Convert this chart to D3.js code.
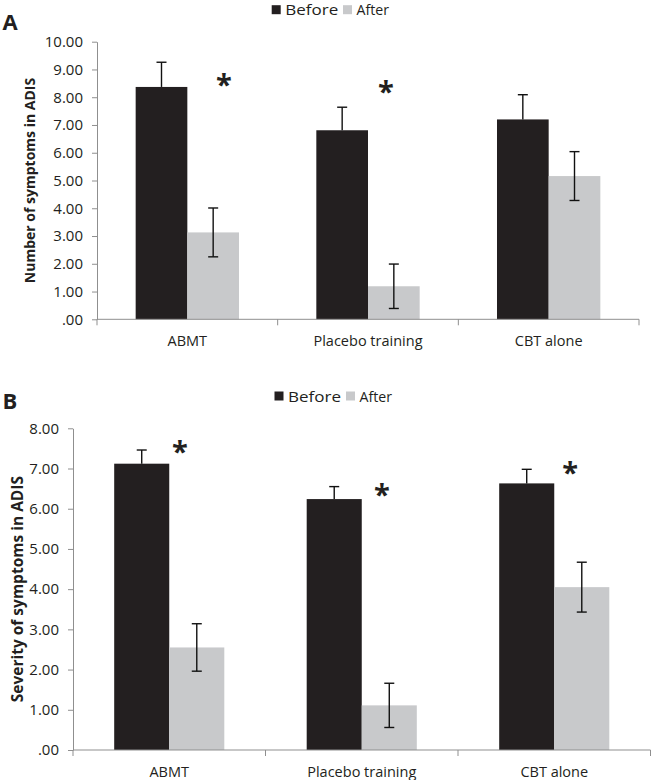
<!DOCTYPE html>
<html>
<head>
<meta charset="utf-8">
<script src="https://cdn.jsdelivr.net/npm/d3@7/dist/d3.min.js"></script>
<style>
  html, body { margin: 0; padding: 0; background: #fff; }
  svg { display: block; }
  text { font-family: "Open Sans", "Noto Sans", sans-serif; fill: #231f20; }
</style>
</head>
<body>
<svg id="chart" width="651" height="780"></svg>
<script>
// ---------------- data ----------------
const categories = ["ABMT", "Placebo training", "CBT alone"];
const seriesNames = ["Before", "After"];

// Panel A: Number of symptoms in ADIS
const aBefore    = [8.37, 6.81, 7.20];
const aBeforeErr = [0.89, 0.83, 0.89];
const aAfter     = [3.13, 1.19, 5.16];
const aAfterErr  = [0.88, 0.80, 0.88];
const aTicks     = [0, 1, 2, 3, 4, 5, 6, 7, 8, 9, 10];
// significance marks: category index, y value, x offset from band centre (fraction of band)
const aStars     = [[0, 8.65, 0.203], [1, 8.40, 0.099]];

// Panel B: Severity of symptoms in ADIS
const bBefore    = [7.12, 6.24, 6.63];
const bBeforeErr = [0.34, 0.31, 0.35];
const bAfter     = [2.55, 1.11, 4.05];
const bAfterErr  = [0.59, 0.55, 0.62];
const bTicks     = [0, 1, 2, 3, 4, 5, 6, 7, 8];
const bStars     = [[0, 7.56, 0.056], [1, 6.49, 0.105], [2, 7.04, 0.082]];

const colors = { Before: "#231f20", After: "#c8c9cb" };
const axisColor = "#8f8f8f";

const svg = d3.select("#chart");

function drawPanel(cfg) {
  const g = svg.append("g");
  const y = d3.scaleLinear().domain([0, d3.max(cfg.ticks)]).range([cfg.y0, cfg.y1]);
  const x = d3.scaleBand().domain(categories).range([cfg.x0, cfg.x1]).padding(0);
  const groupFrac = 0.572;
  const x1 = d3.scaleBand().domain(seriesNames)
    .range([x.bandwidth() * (1 - groupFrac) / 2, x.bandwidth() * (1 + groupFrac) / 2]).padding(0);

  const rows = categories.map((c, i) => ({
    cat: c,
    vals: [
      { s: "Before", v: cfg.before[i], e: cfg.beforeErr[i] },
      { s: "After",  v: cfg.after[i],  e: cfg.afterErr[i] }
    ]
  }));

  // bars
  const grp = g.selectAll("g.cat").data(rows).join("g")
    .attr("transform", d => `translate(${x(d.cat)},0)`);
  grp.selectAll("rect").data(d => d.vals).join("rect")
    .attr("x", d => x1(d.s))
    .attr("width", x1.bandwidth())
    .attr("y", d => y(d.v))
    .attr("height", d => y(0) - y(d.v))
    .attr("fill", d => colors[d.s]);

  // error bars (lower half of the Before bars is hidden inside the dark bar)
  const eb = grp.selectAll("g.err").data(d => d.vals).join("g")
    .attr("transform", d => `translate(${x1(d.s) + x1.bandwidth() / 2},0)`);
  eb.append("line").attr("x1", 0).attr("x2", 0)
    .attr("y1", d => y(d.v + d.e)).attr("y2", d => d.s === "Before" ? y(d.v) : y(d.v - d.e))
    .attr("stroke", "#111").attr("stroke-width", 1.4);
  eb.append("line").attr("x1", -5).attr("x2", 5)
    .attr("y1", d => y(d.v + d.e)).attr("y2", d => y(d.v + d.e))
    .attr("stroke", "#111").attr("stroke-width", 1.4);
  eb.filter(d => d.s === "After").append("line").attr("x1", -5).attr("x2", 5)
    .attr("y1", d => y(d.v - d.e)).attr("y2", d => y(d.v - d.e))
    .attr("stroke", "#111").attr("stroke-width", 1.4);

  // y axis
  const yAxis = g.append("g").attr("transform", `translate(${cfg.x0},0)`)
    .call(d3.axisLeft(y).tickValues(cfg.ticks)
      .tickFormat(d => d === 0 ? ".00" : d.toFixed(2))
      .tickSizeInner(5).tickSizeOuter(0).tickPadding(9));
  yAxis.select(".domain").attr("stroke", axisColor);
  yAxis.selectAll(".tick line").attr("stroke", axisColor);
  yAxis.selectAll(".tick text").style("font-size", "15px")
    .style("font-family", "'Open Sans', sans-serif").attr("fill", "#231f20");

  // x axis
  const xAxis = g.append("g").attr("transform", `translate(0,${cfg.y0})`);
  xAxis.append("line").attr("x1", cfg.x0).attr("x2", cfg.x1)
    .attr("y1", 0).attr("y2", 0).attr("stroke", axisColor);
  const bounds = [cfg.x0].concat(categories.map(c => x(c) + x.bandwidth()));
  xAxis.selectAll("line.tk").data(bounds).join("line").attr("class", "tk")
    .attr("x1", d => d).attr("x2", d => d).attr("y1", 0).attr("y2", 6)
    .attr("stroke", axisColor);
  xAxis.selectAll("text.cat").data(categories).join("text").attr("class", "cat")
    .attr("x", d => x(d) + x.bandwidth() / 2)
    .attr("y", cfg.catY - cfg.y0)
    .attr("text-anchor", "middle")
    .style("font-size", "14.5px")
    .text(d => d);

  // y title
  g.append("text")
    .attr("transform", `translate(${cfg.titleX},${(cfg.y0 + cfg.y1) / 2}) rotate(-90)`)
    .attr("text-anchor", "middle")
    .attr("dy", "0.35em")
    .style("font-size", cfg.titleSize + "px")
    .style("font-weight", "bold")
    .text(cfg.title);

  // stars
  g.selectAll("text.star").data(cfg.stars).join("text").attr("class", "star")
    .attr("x", d => x(categories[d[0]]) + x.bandwidth() * (0.5 + d[2]))
    .attr("y", d => y(d[1]))
    .attr("dy", "0.56em")
    .attr("text-anchor", "middle")
    .style("font-size", "29px")
    .style("font-weight", "bold")
    .text("*");

  // legend
  const lg = g.append("g");
  const legLen = [53, 32.5];
  cfg.legend.forEach((lx, i) => {
    lg.append("rect").attr("x", lx).attr("y", cfg.legY - 10).attr("width", 9).attr("height", 9)
      .attr("fill", colors[seriesNames[i]]);
    lg.append("text").attr("x", lx + 13.5).attr("y", cfg.legY)
      .attr("textLength", legLen[i]).attr("lengthAdjust", "spacingAndGlyphs")
      .style("font-size", "14px").text(seriesNames[i]);
  });

  // panel letter
  g.append("text").attr("x", 2.5).attr("y", cfg.letterY)
    .style("font-size", "22px").style("font-weight", "bold").text(cfg.letter);
}

drawPanel({
  letter: "A", letterY: 29.5,
  before: aBefore, beforeErr: aBeforeErr, after: aAfter, afterErr: aAfterErr,
  ticks: aTicks, stars: aStars,
  x0: 97, x1: 639, y0: 319.3, y1: 41.7,
  catY: 346.5, titleX: 30, titleSize: 14,
  title: "Number of symptoms in ADIS",
  legY: 15.2, legend: [271.7, 343]
});

drawPanel({
  letter: "B", letterY: 408.5,
  before: bBefore, beforeErr: bBeforeErr, after: bAfter, afterErr: bAfterErr,
  ticks: bTicks, stars: bStars,
  x0: 73, x1: 650.5, y0: 750, y1: 428.3,
  catY: 777, titleX: 17.5, titleSize: 15.5,
  title: "Severity of symptoms in ADIS",
  legY: 401.5, legend: [274.5, 346]
});
</script>
</body>
</html>
